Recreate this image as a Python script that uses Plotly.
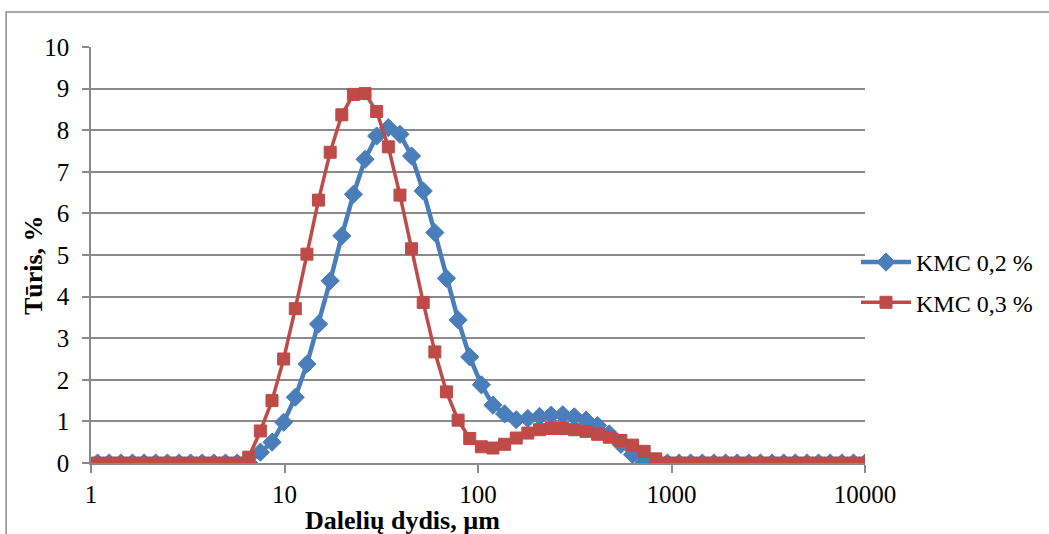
import plotly.graph_objects as go

size_um = [1.081, 1.242, 1.427, 1.638, 1.881, 2.160, 2.481, 2.849, 3.272, 3.757,
           4.315, 4.955, 5.691, 6.535, 7.505, 8.619, 9.899, 11.37, 13.06, 14.99,
           17.22, 19.78, 22.71, 26.08, 29.95, 34.40, 39.51, 45.37, 52.11, 59.84,
           68.71, 78.91, 90.63, 104.1, 119.5, 137.3, 157.6, 181.0, 207.9, 238.7,
           274.2, 314.9, 361.6, 415.3, 476.9, 547.7, 629.0, 722.3, 829.5, 952.6,
           1094, 1256, 1443, 1657, 1903, 2185, 2509, 2882, 3310, 3801,
           4365, 5013, 5757, 6611, 7593, 8720, 10014]

kmc_02 = [0, 0, 0, 0, 0, 0, 0, 0, 0, 0,
          0, 0, 0, 0.0, 0.26, 0.5, 0.98, 1.58, 2.38, 3.34,
          4.38, 5.46, 6.46, 7.3, 7.86, 8.06, 7.9, 7.38, 6.54, 5.54,
          4.44, 3.44, 2.55, 1.88, 1.39, 1.18, 1.04, 1.07, 1.12, 1.15,
          1.16, 1.11, 1.03, 0.9, 0.7, 0.45, 0.2, 0.02, 0, 0,
          0, 0, 0, 0, 0, 0, 0, 0, 0, 0,
          0, 0, 0, 0, 0, 0, 0]

kmc_03 = [0, 0, 0, 0, 0, 0, 0, 0, 0, 0,
          0, 0, 0, 0.14, 0.77, 1.5, 2.5, 3.71, 5.02, 6.32,
          7.47, 8.37, 8.86, 8.88, 8.45, 7.6, 6.44, 5.15, 3.86, 2.67,
          1.71, 1.03, 0.59, 0.39, 0.36, 0.45, 0.6, 0.72, 0.8, 0.83,
          0.83, 0.8, 0.76, 0.69, 0.62, 0.54, 0.43, 0.28, 0.1, 0,
          0, 0, 0, 0, 0, 0, 0, 0, 0, 0,
          0, 0, 0, 0, 0, 0, 0]

series_names = ["KMC 0,2 %", "KMC 0,3 %"]
x_ticks = [1, 10, 100, 1000, 10000]
y_ticks = list(range(0, 11))

BLUE = "#4A7EBB"
RED = "#BE4B48"
GRID = "#8A8A8A"
FONT = "Liberation Serif, Times New Roman, serif"

fig = go.Figure()
fig.add_trace(go.Scatter(
    x=size_um, y=kmc_02, name=series_names[0], mode="lines+markers",
    line=dict(color=BLUE, width=4.5),
    marker=dict(symbol="diamond", size=14, color=BLUE,
                line=dict(color=BLUE, width=1)),
    legendgroup="a"))
fig.add_trace(go.Scatter(
    x=size_um, y=kmc_03, name=series_names[1], mode="lines+markers",
    line=dict(color=RED, width=3.5),
    marker=dict(symbol="square", size=12, color=RED,
                line=dict(color=RED, width=1)),
    legendgroup="b"))

W, H = 1049, 534
L, R, T, B = 91, 1049 - 866, 47, 534 - 463

def px_x(p):
    return (p - L) / (W - L - R)

def px_y(p):
    return (H - B - p) / (H - T - B)

fig.update_layout(
    width=W, height=H,
    margin=dict(l=L, r=R, t=T, b=B, pad=0),
    paper_bgcolor="white", plot_bgcolor="white",
    font=dict(family=FONT, size=25, color="black"),
    showlegend=True,
    legend=dict(
        x=px_x(856), y=px_y(240), xanchor="left", yanchor="top",
        bgcolor="rgba(0,0,0,0)", borderwidth=0,
        font=dict(family=FONT, size=24, color="black"),
        traceorder="grouped", tracegroupgap=6, itemwidth=50,
    ),
    xaxis=dict(
        type="log", range=[0, 4], tickvals=x_ticks,
        ticktext=[str(v) for v in x_ticks],
        showgrid=False, showline=True, linecolor=GRID, linewidth=1.5,
        ticks="outside", ticklen=8, tickcolor=GRID, tickwidth=1.5,
        tickfont=dict(family=FONT, size=25, color="black"),
        zeroline=False,
    ),
    yaxis=dict(
        range=[0, 10], tickvals=y_ticks,
        showgrid=True, gridcolor=GRID, gridwidth=1.6,
        showline=True, linecolor=GRID, linewidth=1.5,
        ticks="outside", ticklen=7, tickcolor=GRID, tickwidth=1.5,
        tickfont=dict(family=FONT, size=25, color="black"),
        zeroline=False, ticklabelstandoff=8,
    ),
    annotations=[
        dict(text="<b>Tūris, %</b>", xref="paper", yref="paper",
             x=px_x(33), y=px_y(265), textangle=-90, showarrow=False,
             xanchor="center", yanchor="middle",
             font=dict(family=FONT, size=26, color="black")),
        dict(text="<b>Dalelių dydis, µm</b>", xref="paper", yref="paper",
             x=px_x(403), y=px_y(520), showarrow=False,
             xanchor="center", yanchor="middle",
             font=dict(family=FONT, size=26, color="black")),
    ],
    shapes=[
        dict(type="rect", xref="paper", yref="paper",
             x0=px_x(6), x1=px_x(1080), y0=px_y(560), y1=px_y(12),
             line=dict(color="#8C8C8C", width=1.5), fillcolor="rgba(0,0,0,0)",
             layer="below"),
    ],
)

fig.write_html("out.html")
